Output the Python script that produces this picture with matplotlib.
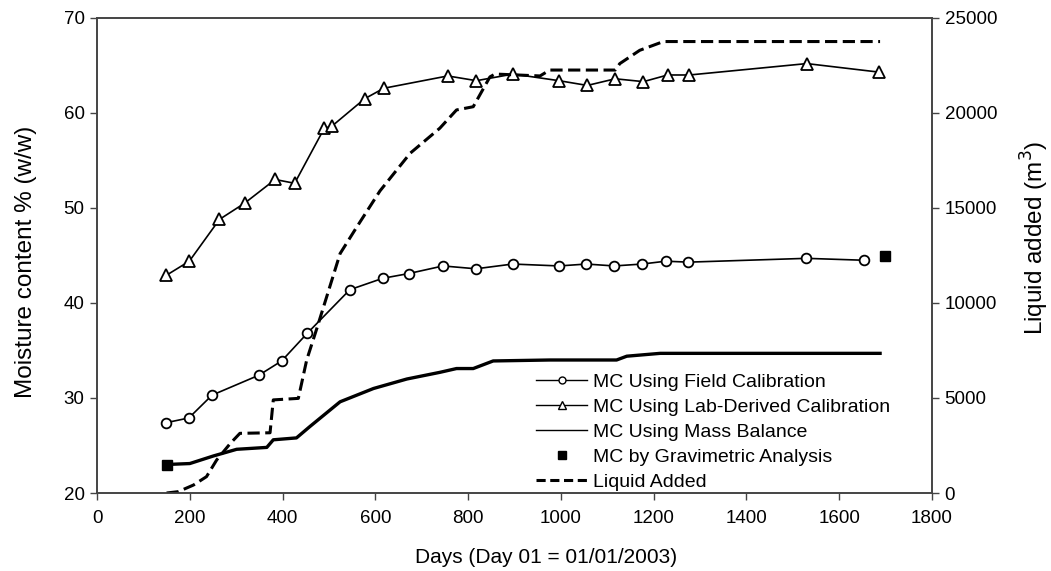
import matplotlib
matplotlib.use('Agg')
import matplotlib.pyplot as plt
from matplotlib.lines import Line2D

plt.rcParams['font.family'] = ['Liberation Sans', 'DejaVu Sans']

# MC using field calibration
field_days = [149, 198, 248, 349, 398, 453, 545, 616, 672, 746, 817, 896, 996, 1055,
              1115, 1175, 1226, 1275, 1529, 1653]
field_mc = [27.4, 27.9, 30.3, 32.4, 33.9, 36.8, 41.4, 42.6, 43.1, 43.9, 43.6, 44.1, 43.9,
            44.1, 43.9, 44.1, 44.4, 44.3, 44.7, 44.5]

# MC using lab-derived calibration
lab_days = [149, 199, 264, 318, 384, 426, 490, 506, 577, 618, 756, 818, 897, 996, 1057,
            1117, 1178, 1230, 1277, 1530, 1686]
lab_mc = [42.9, 44.4, 48.8, 50.5, 53.0, 52.6, 58.4, 58.6, 61.5, 62.6, 63.9, 63.4, 64.1,
          63.4, 62.9, 63.6, 63.3, 64.0, 64.0, 65.2, 64.3]

# MC using mass balance
mass_days = [150, 200, 251, 301, 366, 380, 430, 459, 524, 596, 668, 739, 775, 811, 854,
             976, 1120, 1142, 1214, 1688]
mass_mc = [23.0, 23.1, 23.9, 24.6, 24.8, 25.6, 25.8, 27.0, 29.6, 31.0, 32.0, 32.7, 33.1,
           33.1, 33.9, 34.0, 34.0, 34.4, 34.7, 34.7]

# MC by gravimetric analysis
grav_days = [150, 1699]
grav_mc = [23.0, 44.9]

# Liquid added (m3)
liquid_days = [150, 175, 208, 236, 258, 287, 308, 373, 380, 434, 452, 474, 524, 560, 610,
               675, 739, 775, 811, 847, 858, 955, 976, 1117, 1127, 1170, 1221, 1688]
liquid_m3 = [0, 70, 420, 860, 1740, 2600, 3140, 3170, 4900, 4980, 7000, 8670, 12600,
             14000, 15900, 17880, 19200, 20160, 20330, 21900, 22050, 21950, 22260, 22260,
             22600, 23300, 23760, 23760]


def main() -> None:
    fig = plt.figure(figsize=(10.51, 5.71), dpi=100)
    ax = fig.add_axes([0.0923, 0.1366, 0.7945, 0.8319])
    ax2 = ax.twinx()

    ax.plot(field_days, field_mc, color='black', lw=1.2, marker='o', ms=7,
            mfc='white', mec='black', mew=1.3, zorder=3)
    ax.plot(lab_days, lab_mc, color='black', lw=1.2, marker='^', ms=8,
            mfc='white', mec='black', mew=1.3, zorder=3)
    ax.plot(mass_days, mass_mc, color='black', lw=2.4, zorder=2)
    ax.plot(grav_days, grav_mc, ls='none', marker='s', ms=7, color='black', zorder=4)
    ax2.plot(liquid_days, liquid_m3, color='black', lw=2.2, ls=(0, (4, 1.8)))

    ax.set_xlim(0, 1800)
    ax.set_ylim(20, 70)
    ax2.set_ylim(0, 25000)
    ax.set_xticks(range(0, 1801, 200))
    ax.set_yticks(range(20, 71, 10))
    ax2.set_yticks(range(0, 25001, 5000))

    for a in (ax, ax2):
        a.tick_params(labelsize=13.5, length=5, width=1, color='#444444', pad=4)
        for s in a.spines.values():
            s.set_color('#444444')
            s.set_linewidth(1.2)
    ax.tick_params(axis='x', pad=7)

    ax.set_xlabel('Days (Day 01 = 01/01/2003)', fontsize=15)
    ax.xaxis.set_label_coords(0.538, -0.115)
    ax.set_ylabel('Moisture content % (w/w)', fontsize=17.5)
    ax.yaxis.set_label_coords(-0.072, 0.487)
    ax2.set_ylabel('Liquid added (m$^3$)', fontsize=17.5)
    ax2.yaxis.set_label_coords(1.104, 0.537)

    handles = [
        Line2D([], [], color='black', lw=1, marker='o', ms=5, mfc='white', mec='black'),
        Line2D([], [], color='black', lw=1, marker='^', ms=6, mfc='white', mec='black'),
        Line2D([], [], color='black', lw=1),
        Line2D([], [], ls='none', marker='s', ms=6, color='black'),
        Line2D([], [], color='black', lw=2.2, ls=(0, (3, 1.5))),
    ]
    labels = ['MC Using Field Calibration', 'MC Using Lab-Derived Calibration',
              'MC Using Mass Balance', 'MC by Gravimetric Analysis', 'Liquid Added']
    ax2.legend(handles, labels, loc='lower left', bbox_to_anchor=(0.517, -0.012),
               frameon=False, fontsize=14, handlelength=2.6, labelspacing=0.38,
               handletextpad=0.3, borderaxespad=0)

    fig.savefig('out.png', dpi=100)


if __name__ == '__main__':
    main()
